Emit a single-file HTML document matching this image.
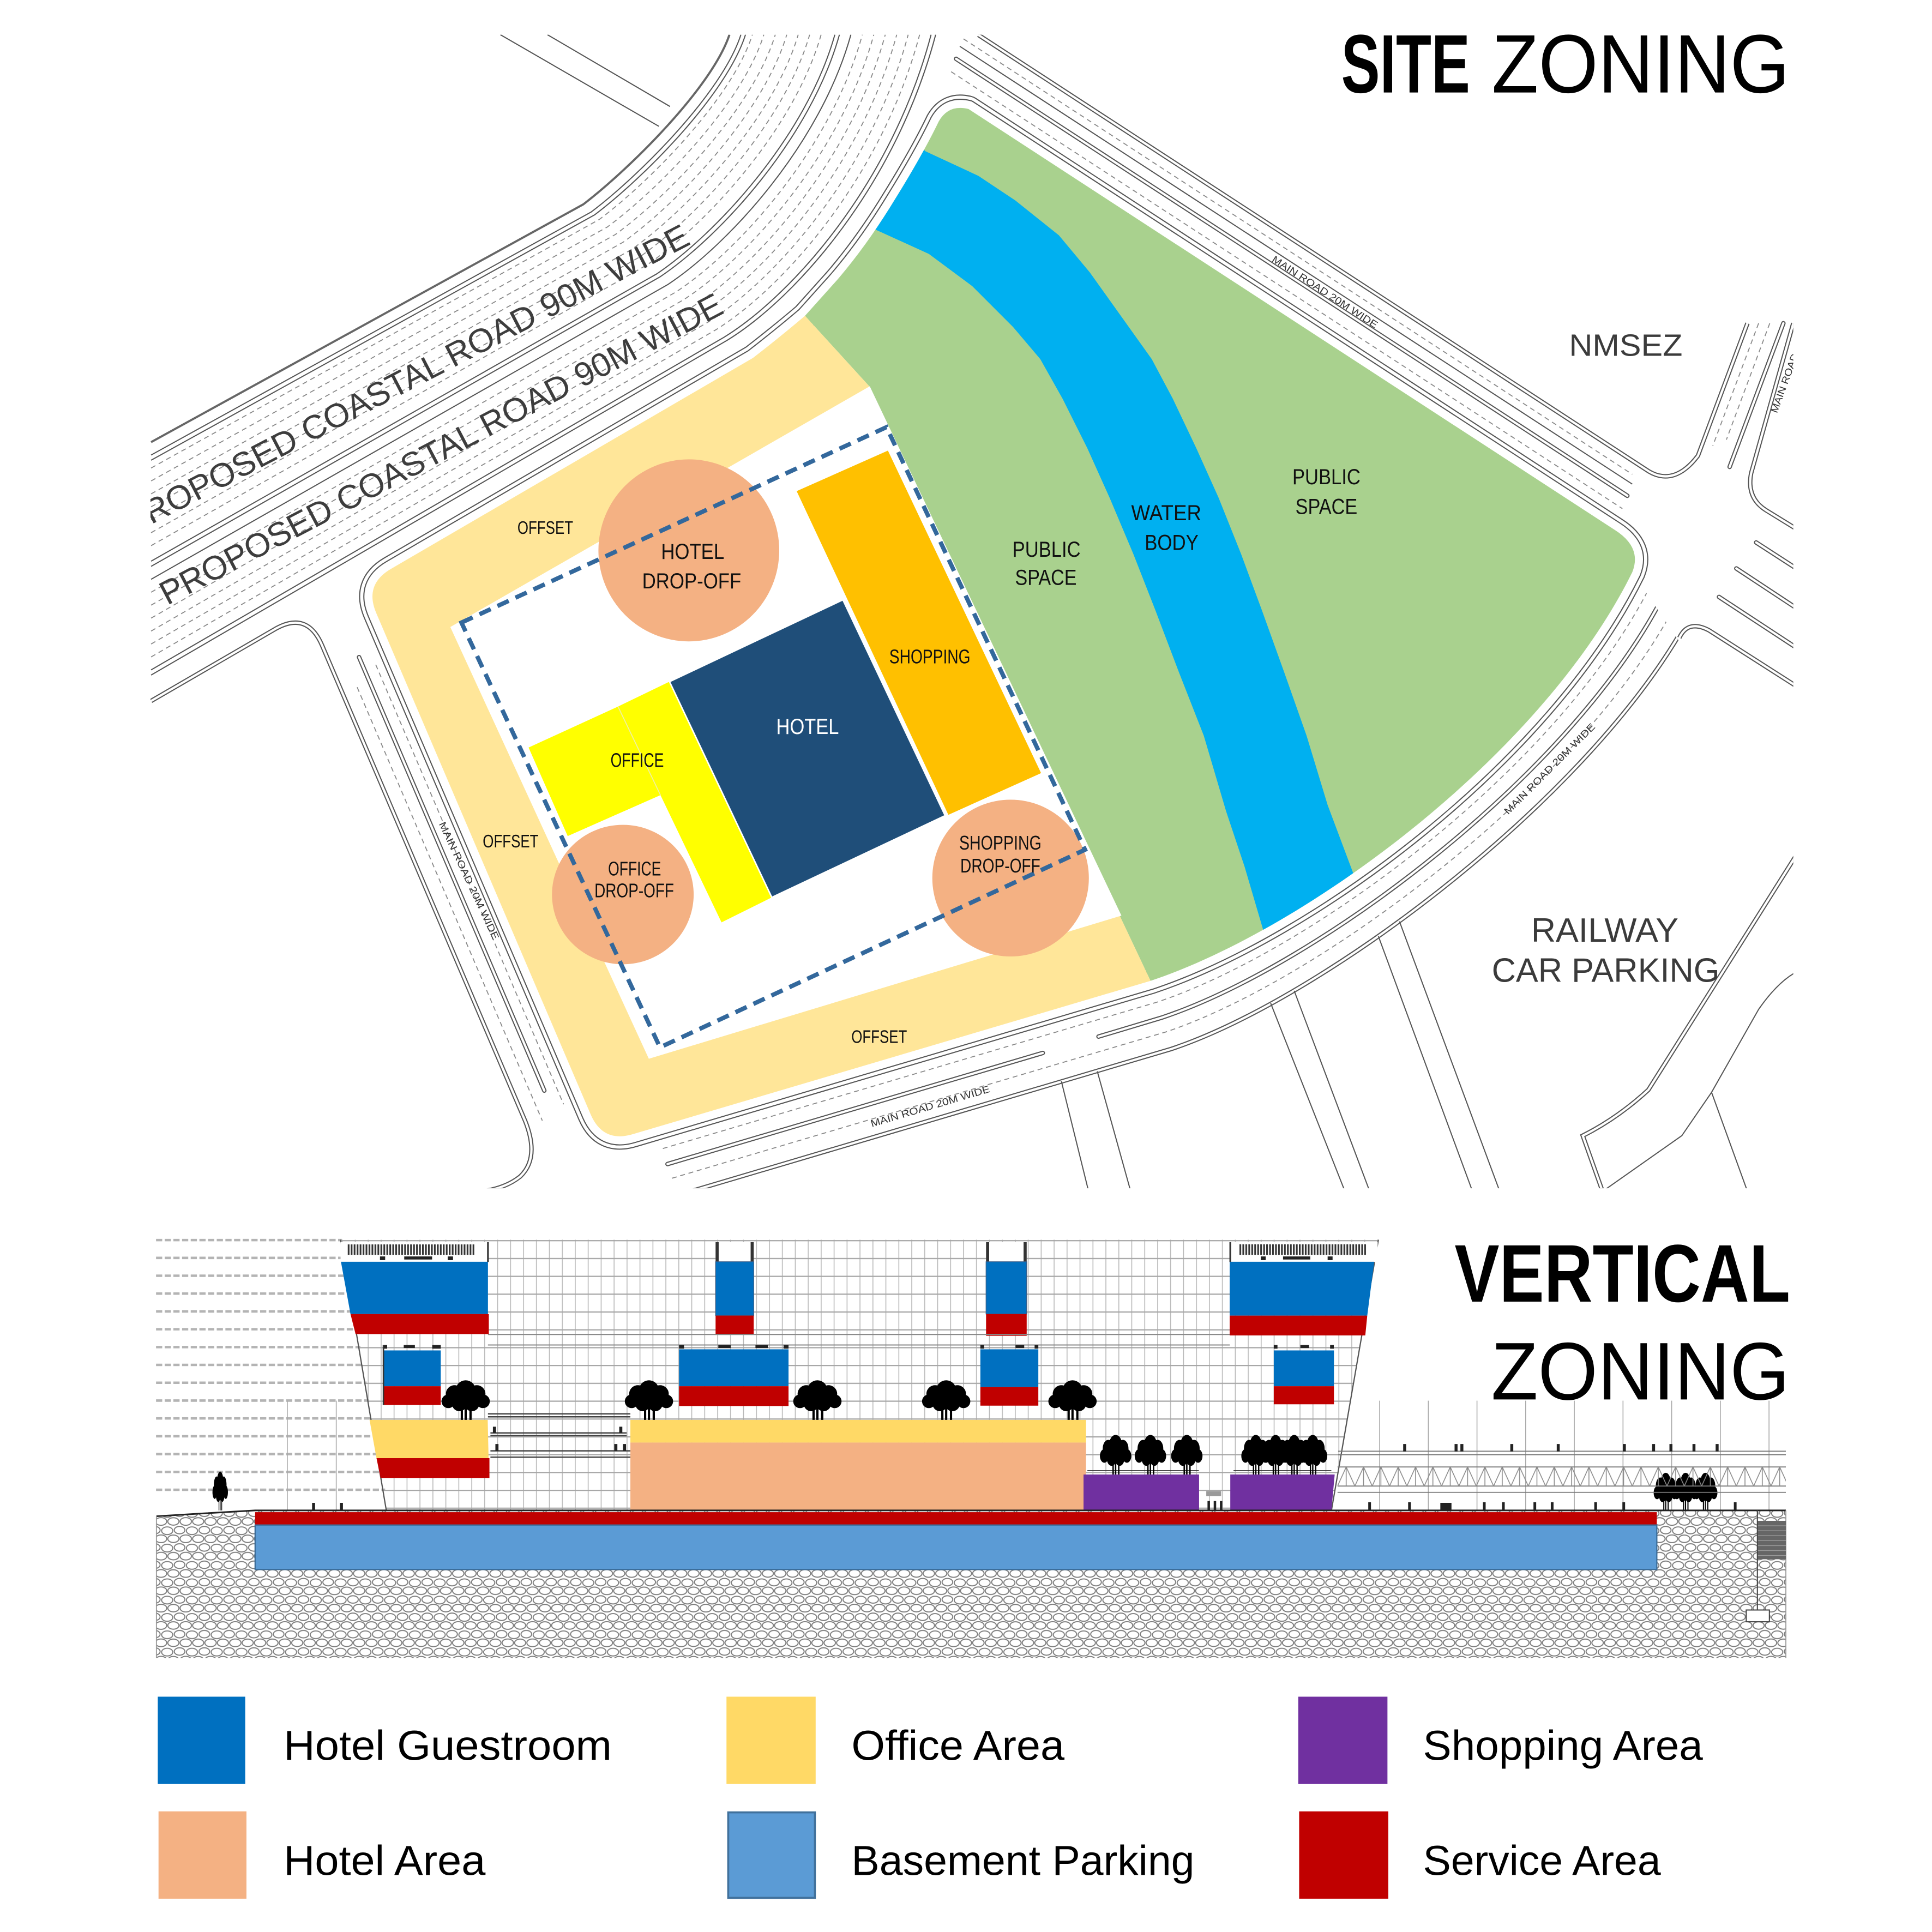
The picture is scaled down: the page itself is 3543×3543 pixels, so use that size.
<!DOCTYPE html>
<html><head><meta charset="utf-8"><style>html,body{margin:0;padding:0;background:#fff;overflow:hidden}svg{display:block}</style></head>
<body>
<svg xmlns="http://www.w3.org/2000/svg" width="3543" height="3543" viewBox="0 0 1560 1560" font-family="'Liberation Sans', Arial, sans-serif">
<defs>
<style>
.s{fill:none;stroke:#555;stroke-width:.9}
.d{fill:none;stroke:#8a8a8a;stroke-width:.8;stroke-dasharray:4 3}
.k{fill:none;stroke:#555;stroke-width:3.6;stroke-linecap:round}
.w{fill:none;stroke:#fff;stroke-width:1.8;stroke-linecap:round}
.lb{font-size:8px;fill:#333}
.pl{text-anchor:middle;fill:#111}
</style>
<clipPath id="plan"><rect x="121.5" y="28" width="1326.5" height="931.5"/></clipPath>
<clipPath id="sclip"><polygon points="978,-38 1658,962 1658,1600 0,1600 0,-38"/></clipPath>
<clipPath id="gclip"><path d="M650,255 L676,226 Q700,198 722,162 Q745,125 758,98 Q766,84 782,88 L1304,428 Q1326,442 1318,462 C1245,610 1055,750 929,792 L702,312 Z"/></clipPath>
<path id="u1" d="M790,28.2 L1331,380.4 Q1352,393 1371,368 L1411,261"/>
<path id="m1" d="M772,47.5 L1314,400.3"/>
<path id="m2" d="M1440,261 L1396.6,377"/>
<path id="e0" d="M1448,261 L1414,382 Q1410,402 1426,412 L1452,428"/>
<path id="e1" d="M1418,438 L1452,460"/>
<path id="e2" d="M1402,459 L1452,492"/>
<path id="e3" d="M1388,482 L1452,524"/>
<path id="e4" d="M1356,515 Q1363,500 1380,509 L1452,555"/>
<path id="sm1" d="M539,939.9 L842,850.2"/>
<path id="sm2" d="M887,837 L938,821.7 C1064,779.7 1272.8,623.7 1345.8,475.7"/>
<path id="so" d="M546.7,965.2 L945.7,847 C1071.7,805 1296.6,635.4 1369.6,487.4"/>
<path id="lm" d="M289.9,530.6 L439.5,880.6"/>
<path id="le" d="M122,566 L222,508 Q248,493 260,521 L424,905 Q436,935 420,950 Q405,962 378,963"/>
<path id="ra" d="M1452,688 L1331,880 Q1306,903 1278,917 L1294,962"/>
<path id="site" d="M650,255 L676,226 Q700,198 722,162 Q745,125 758,98 Q766,84 782,88 L1304,428 Q1326,442 1318,462 C1245,610 1055,750 929,792 L511,915.8 Q487,923 477,900 L303.8,495 Q294,472 315.6,459.4 L608,289 Q630,272 650,255 Z"/>
<pattern id="soil" width="20" height="14" patternUnits="userSpaceOnUse">
<rect width="20" height="14" fill="#fff"/>
<g fill="none" stroke="#7c7c7c" stroke-width="0.85">
<ellipse cx="5" cy="3.5" rx="4.3" ry="3"/><ellipse cx="15" cy="4" rx="4.5" ry="3.1"/>
<ellipse cx="0" cy="10.5" rx="4.5" ry="3"/><ellipse cx="10" cy="10.5" rx="4.6" ry="3.1"/><ellipse cx="20" cy="10.5" rx="4.5" ry="3"/>
</g></pattern>
<pattern id="grid" x="276" y="1001.3" width="10.45" height="14.4" patternUnits="userSpaceOnUse">
<path d="M0.4,0V14.4" stroke="#b8b8b8" stroke-width="0.7"/><path d="M0,0.5H10.45" stroke="#a6a6a6" stroke-width="1"/></pattern>
<pattern id="rail" width="2.4" height="10" patternUnits="userSpaceOnUse"><rect width="1.4" height="10" fill="#333"/></pattern>
<pattern id="truss" x="1080" y="1184.5" width="14" height="15.4" patternUnits="userSpaceOnUse"><path d="M0,15.4 L7,0 L14,15.4 M7,0 V15.4" stroke="#8a8a8a" stroke-width="0.7" fill="none"/></pattern>
<g id="tree" fill="#000">
<circle cx="0" cy="-24" r="8"/><circle cx="-9" cy="-21" r="7"/><circle cx="9" cy="-21" r="7"/>
<circle cx="-14" cy="-15" r="5.5"/><circle cx="14" cy="-15" r="5.5"/><circle cx="-5" cy="-13" r="6"/><circle cx="5" cy="-13" r="6"/>
<rect x="-4" y="-10" width="1.8" height="10"/><rect x="3" y="-10" width="1.8" height="10"/><rect x="-0.9" y="-12" width="1.8" height="12"/>
</g>
</defs>

<rect width="1560" height="1560" fill="#fff"/>

<!-- ================= SITE PLAN ================= -->
<g clip-path="url(#plan)">
<path class="s" style="stroke-width:1.7;stroke:#666" d="M122,357 L471,165 C510,135 575,70 589,28"/>
<path class="s" d="M122,367.45 L477.45,171.1 C517.4,140.85 583.25,74.4 598.25,28"/>
<path class="s" d="M122,371.63 L480.03,173.54 C520.36,143.19 586.55,76.16 601.95,28"/>
<path class="d" d="M122,377.9 L483.9,177.2 C524.8,146.7 591.5,78.8 607.5,28"/>
<path class="d" d="M122,388.35 L490.35,183.3 C532.2,152.55 599.75,83.2 616.75,28"/>
<path class="d" d="M122,398.8 L496.8,189.4 C539.6,158.4 608,87.6 626,28"/>
<path class="d" d="M122,409.25 L503.25,195.5 C547,164.25 616.25,92 635.25,28"/>
<path class="d" d="M122,419.7 L509.7,201.6 C554.4,170.1 624.5,96.4 644.5,28"/>
<path class="d" d="M122,430.15 L516.15,207.7 C561.8,175.95 632.75,100.8 653.75,28"/>
<path class="d" d="M122,440.6 L522.6,213.8 C569.2,181.8 641,105.2 663,28"/>
<path class="s" d="M122,453.14 L530.34,221.12 C578.08,188.82 650.9,110.48 674.1,28"/>
<path class="s" d="M122,457.32 L532.92,223.56 C581.04,191.16 654.2,112.24 677.8,28"/>
<path class="s" d="M122,467.77 L539.37,229.66 C588.44,197.01 662.45,116.64 687.05,28"/>
<path class="d" d="M122,478.22 L545.82,235.76 C595.84,202.86 670.7,121.04 696.3,28"/>
<path class="d" d="M122,488.67 L552.27,241.86 C603.24,208.71 678.95,125.44 705.55,28"/>
<path class="d" d="M122,499.12 L558.72,247.96 C610.64,214.56 687.2,129.84 714.8,28"/>
<path class="d" d="M122,509.57 L565.17,254.06 C618.04,220.41 695.45,134.24 724.05,28"/>
<path class="d" d="M122,520.02 L571.62,260.16 C625.44,226.26 703.7,138.64 733.3,28"/>
<path class="d" d="M122,530.47 L578.07,266.26 C632.84,232.11 711.95,143.04 742.55,28"/>
<path class="s" d="M122,540.92 L584.52,272.36 C640.24,237.96 720.2,147.44 751.8,28"/>
<path class="s" d="M122,545.1 L587.1,274.8 C643.2,240.3 723.5,149.2 755.5,28"/>
<text transform="translate(106,432) rotate(-27.45)" font-size="27" fill="#3d3d3d" textLength="510" lengthAdjust="spacingAndGlyphs">PROPOSED COASTAL ROAD 90M WIDE</text>
<text transform="translate(135,489) rotate(-27.7)" font-size="27" fill="#3d3d3d" textLength="509" lengthAdjust="spacingAndGlyphs">PROPOSED COASTAL ROAD 90M WIDE</text>
<path class="s" d="M404,28 L532,102 M442,28 L541,86"/>

<path class="d" d="M778,31.4 L1318,383"/>
<path class="s" d="M775,37.4 L1318,390.9"/>
<path class="d" d="M768,57.9 L1310,410.7"/>
<use href="#u1" class="k" style="stroke-linecap:butt"/><use href="#u1" class="w" style="stroke-linecap:butt"/>
<use href="#m1" class="k"/><use href="#m1" class="w"/>
<text class="lb" transform="translate(1070,235.5) rotate(33.07)" y="3" text-anchor="middle" textLength="100" lengthAdjust="spacingAndGlyphs">MAIN ROAD 20M WIDE</text>

<path class="d" d="M1420,261 L1383,360"/>
<path class="d" d="M1429,261 L1394,355"/>
<use href="#m2" class="k"/><use href="#m2" class="w"/>
<use href="#e0" class="k" style="stroke-linecap:butt"/><use href="#e0" class="w" style="stroke-linecap:butt"/>
<use href="#e1" class="k"/><use href="#e1" class="w"/>
<use href="#e2" class="k"/><use href="#e2" class="w"/>
<use href="#e3" class="k"/><use href="#e3" class="w"/>
<use href="#e4" class="k" style="stroke-linecap:butt"/><use href="#e4" class="w" style="stroke-linecap:butt"/>
<text class="lb" transform="translate(1444,300) rotate(-70)" y="3" text-anchor="middle" textLength="70" lengthAdjust="spacingAndGlyphs">MAIN ROAD 20M</text>

<g clip-path="url(#sclip)">
<path class="d" d="M535.2,927.4 L934.2,809.2 C1060.2,767.2 1261.1,618 1334.1,470"/>
<path class="d" d="M542.5,951.4 L941.5,833.2 C1067.5,791.2 1283.6,629 1356.6,481"/>
<use href="#sm1" class="k"/><use href="#sm1" class="w"/>
<use href="#sm2" class="k"/><use href="#sm2" class="w"/>
<use href="#so" class="k" style="stroke-linecap:butt"/><use href="#so" class="w" style="stroke-linecap:butt"/>
</g>
<text class="lb" transform="translate(751,893) rotate(-16.5)" y="3" text-anchor="middle" textLength="100" lengthAdjust="spacingAndGlyphs">MAIN ROAD 20M WIDE</text>
<text class="lb" transform="translate(1251,620.6) rotate(-45)" y="3" text-anchor="middle" textLength="100" lengthAdjust="spacingAndGlyphs">MAIN ROAD 20M WIDE</text>

<path class="d" d="M303.4,536.7 L455.1,891.7"/>
<path class="d" d="M288.4,554.9 L437.9,904.9"/>
<use href="#lm" class="k"/><use href="#lm" class="w"/>
<use href="#le" class="k" style="stroke-linecap:butt"/><use href="#le" class="w" style="stroke-linecap:butt"/>
<text class="lb" transform="translate(379,711) rotate(65)" y="3" text-anchor="middle" textLength="104" lengthAdjust="spacingAndGlyphs">MAIN ROAD 20M WIDE</text>

<use href="#ra" class="k" style="stroke-linecap:butt"/><use href="#ra" class="w" style="stroke-linecap:butt"/>
<path class="s" d="M1452,784 Q1436,792 1420,815 L1382,882 L1358,917 L1294,962 M1382,882 L1411,962"/>
<path class="s" d="M1113,756 L1189,962 M1130,744 L1211,962 M1026,810 L1086,962 M1045,800 L1106,962 M857,873 L879,962 M886,865 L913,962"/>

<use href="#site" style="fill:none;stroke:#555;stroke-width:21.6;stroke-linejoin:round"/>
<use href="#site" style="fill:none;stroke:#fff;stroke-width:19.8;stroke-linejoin:round"/>
<use href="#site" style="fill:none;stroke:#555;stroke-width:14.8;stroke-linejoin:round"/>
<use href="#site" style="fill:none;stroke:#fff;stroke-width:13;stroke-linejoin:round"/>

<path fill="#A9D18E" d="M650,255 L676,226 Q700,198 722,162 Q745,125 758,98 Q766,84 782,88 L1304,428 Q1326,442 1318,462 C1245,610 1055,750 929,792 L702,312 Z"/>
<path fill="#00B0F0" clip-path="url(#gclip)" d="M735,105 L747,122 L790,142 L820,162 L855,190 L880,220 L905,255 L930,290 L947,322 L966,362 L984,402 L1002,447 L1019,493 L1037,543 L1055,594 L1072,650 L1093,706 L1100,740 L1030,790 L1020,751 L1005,700 L990,655 L972,594 L952,543 L933,493 L915,447 L896,402 L878,362 L858,322 L840,290 L818,264 L785,231 L750,205 L706,185 L685,172 Z"/>
<path fill="#FFE699" d="M650,255 L702,312 L929,792 L511,915.8 Q487,923 477,900 L303.8,495 Q294,472 315.6,459.4 L608,289 Q630,272 650,255 Z"/>
<polygon fill="#fff" points="363.6,506.3 702.3,311.9 905.5,739.3 523.9,854.9"/>

<polygon fill="#FFC000" stroke="#fff" stroke-width="1" points="642.6,396.3 717.2,363.2 841.3,624.5 765.5,658.6"/>
<polygon fill="#FFFF00" points="426.8,603.6 499,570.5 540.6,550.4 623.2,724.6 582.6,744.8 533.3,642 458.4,675.1"/>
<path d="M499,570.5 L533.3,642" stroke="#f0f0a0" stroke-width="0.8"/>
<polygon fill="#1F4E79" stroke="#fff" stroke-width="1.2" points="540.6,550.4 680.6,484.3 763.2,658.6 623.2,724.6"/>

<ellipse cx="556.2" cy="444.4" rx="73" ry="73.5" fill="#F4B183"/>
<ellipse cx="502.9" cy="722.3" rx="57.2" ry="56.3" fill="#F4B183"/>
<ellipse cx="816" cy="709" rx="63.2" ry="63.3" fill="#F4B183"/>

<polygon fill="none" stroke="#33689C" stroke-width="3.5" stroke-dasharray="10 6" points="372.6,502.7 715.8,344.9 876.1,686.1 532.9,845.7"/>

<g class="pl" font-size="16">
<text x="440.3" y="431" font-size="14.5" textLength="45" lengthAdjust="spacingAndGlyphs">OFFSET</text>
<text x="559.3" y="451.3" font-size="17.5" textLength="51" lengthAdjust="spacingAndGlyphs">HOTEL</text>
<text x="558.5" y="475.1" font-size="17.5" textLength="80" lengthAdjust="spacingAndGlyphs">DROP-OFF</text>
<text x="750.8" y="535.7" textLength="65.5" lengthAdjust="spacingAndGlyphs">SHOPPING</text>
<text x="652.1" y="592.6" font-size="17.5" fill="#fff" textLength="50.6" lengthAdjust="spacingAndGlyphs">HOTEL</text>
<text x="514.5" y="619.3" textLength="43" lengthAdjust="spacingAndGlyphs">OFFICE</text>
<text x="412.3" y="684.3" font-size="14.5" textLength="45" lengthAdjust="spacingAndGlyphs">OFFSET</text>
<text x="512.4" y="707" textLength="42.8" lengthAdjust="spacingAndGlyphs">OFFICE</text>
<text x="512.1" y="724.6" textLength="64.2" lengthAdjust="spacingAndGlyphs">DROP-OFF</text>
<text x="807.7" y="686" textLength="66.4" lengthAdjust="spacingAndGlyphs">SHOPPING</text>
<text x="807.7" y="704.5" textLength="64.6" lengthAdjust="spacingAndGlyphs">DROP-OFF</text>
<text x="709.9" y="842" font-size="14.5" textLength="45" lengthAdjust="spacingAndGlyphs">OFFSET</text>
<text x="845" y="449.5" font-size="17.5" textLength="55" lengthAdjust="spacingAndGlyphs">PUBLIC</text>
<text x="844.5" y="472.2" font-size="17.5" textLength="49.7" lengthAdjust="spacingAndGlyphs">SPACE</text>
<text x="941.7" y="420" font-size="17.5" textLength="56.6" lengthAdjust="spacingAndGlyphs">WATER</text>
<text x="946" y="444" font-size="17.5" textLength="43.4" lengthAdjust="spacingAndGlyphs">BODY</text>
<text x="1071" y="391" font-size="17.5" textLength="55" lengthAdjust="spacingAndGlyphs">PUBLIC</text>
<text x="1071" y="415" font-size="17.5" textLength="50" lengthAdjust="spacingAndGlyphs">SPACE</text>
</g>
<text x="1267" y="287.4" font-size="25" fill="#3b3b3b" textLength="91.5" lengthAdjust="spacingAndGlyphs">NMSEZ</text>
<text x="1295.8" y="760.3" font-size="27.5" fill="#3b3b3b" text-anchor="middle" textLength="119" lengthAdjust="spacingAndGlyphs">RAILWAY</text>
<text x="1296.5" y="792.7" font-size="27.5" fill="#3b3b3b" text-anchor="middle" textLength="184" lengthAdjust="spacingAndGlyphs">CAR PARKING</text>
</g>

<text x="1083" y="74.7" font-size="67" font-weight="bold" fill="#000" textLength="104" lengthAdjust="spacingAndGlyphs">SITE</text>
<text x="1204.5" y="74.7" font-size="67" fill="#000" textLength="240.5" lengthAdjust="spacingAndGlyphs">ZONING</text>

<!-- ================= SECTION ================= -->
<path fill="none" stroke="#b4b4b4" stroke-width="2" stroke-dasharray="5 2" d="M126,1001.3H276 M126,1015.7H278 M126,1030.1H281 M126,1044.5H283 M126,1058.9H286 M126,1073.3H288 M126,1087.7H291 M126,1102.1H293 M126,1116.5H296 M126,1130.9H298 M126,1145.3H301 M126,1159.7H303 M126,1174.1H306 M126,1188.5H308 M126,1202.9H311"/>
<polygon fill="url(#grid)" points="275,1001 1113,1001 1075,1220 312,1220"/>
<path stroke="#a8a8a8" stroke-width="0.7" d="M232,1131V1220 M271.5,1131V1220 M1114,1131V1220 M1153.3,1131V1220 M1192.6,1131V1220 M1231.9,1131V1220 M1271.2,1131V1220 M1310.5,1131V1220 M1349.8,1131V1220 M1389.1,1131V1220 M1428.4,1131V1220"/>
<path stroke="#555" stroke-width="1" d="M275,1001 L312,1220 M1113,1001 L1075,1220"/>

<rect x="275" y="1003" width="119" height="16" fill="#fff"/>
<rect x="280.5" y="1004.8" width="102.5" height="8.4" fill="url(#rail)"/>
<path fill="#222" d="M306.8,1014.5h4.2v3h-4.2z M326.4,1014.5h22.5v2.5h-22.5z M361.5,1014.5h4.3v3h-4.3z"/>
<path stroke="#333" stroke-width="1.4" d="M394,1003V1019"/>
<polygon fill="#0070C0" points="275.3,1018.8 394,1018.8 394,1061 283,1061"/>
<polygon fill="#C00000" points="283,1061 394.7,1061 394.7,1077.2 287.1,1077.2"/>

<rect x="577.8" y="1003" width="30.8" height="16" fill="#fff"/>
<path fill="#333" d="M577.8,1003h2.5v16h-2.5z M606.1,1003h2.5v16h-2.5z"/>
<rect x="577.8" y="1018.8" width="30.8" height="43.5" fill="#0070C0" stroke="#3a5f8a" stroke-width="0.6"/>
<rect x="577.8" y="1062.3" width="30.8" height="14.9" fill="#C00000"/>

<rect x="796.2" y="1003" width="32.8" height="16" fill="#fff"/>
<path fill="#333" d="M796.2,1003h2.5v16h-2.5z M826.5,1003h2.5v16h-2.5z"/>
<rect x="796.2" y="1018.8" width="32.8" height="42.2" fill="#0070C0" stroke="#3a5f8a" stroke-width="0.6"/>
<rect x="796.2" y="1061" width="32.8" height="17.6" fill="#C00000"/>

<rect x="993.4" y="1003" width="119" height="16" fill="#fff"/>
<rect x="1000.4" y="1004.7" width="102.6" height="8.5" fill="url(#rail)"/>
<path fill="#222" d="M1018,1014.5h4v3h-4z M1036,1014.5h22v2.5h-22z M1072,1014.5h4v3h-4z"/>
<path stroke="#333" stroke-width="1.4" d="M993.4,1003V1019"/>
<polygon fill="#0070C0" points="992.9,1018.8 1109.6,1018.8 1104,1062.3 992.9,1062.3"/>
<polygon fill="#C00000" points="992.9,1062.3 1104,1062.3 1102.4,1078.3 992.9,1078.3"/>

<path stroke="#888" stroke-width="0.9" d="M394,1077.5H993 M394,1086H993"/>

<path fill="#222" d="M309.6,1086h3v3h-3z M326,1086h9v2.5h-9z M349,1086h6.9v3h-6.9z M548.3,1086h4v3h-4z M580,1086h10v2.5h-10z M610,1086h10v2.5h-10z M632.7,1086h4v3h-4z M791.6,1086h3v3h-3z M820,1086h7v2.5h-7z M835.4,1086h3v3h-3z M1028.5,1086h3v3h-3z M1050,1086h7v2.5h-7z M1074,1086h3v3h-3z"/>
<rect x="309.6" y="1090.4" width="46.3" height="28.9" fill="#0070C0"/>
<rect x="309.6" y="1119.3" width="46.3" height="15.2" fill="#C00000"/>
<path stroke="#333" stroke-width="1.2" d="M309.6,1086V1134.5"/>
<rect x="548.3" y="1089.5" width="88.4" height="29.8" fill="#0070C0"/>
<rect x="548.3" y="1119.3" width="88.4" height="16" fill="#C00000"/>
<rect x="791.6" y="1089.5" width="46.8" height="30.5" fill="#0070C0"/>
<rect x="791.6" y="1120" width="46.8" height="15" fill="#C00000"/>
<rect x="1028.5" y="1090.4" width="48.6" height="28.9" fill="#0070C0"/>
<rect x="1028.5" y="1119.3" width="48.6" height="14.6" fill="#C00000"/>

<path stroke="#444" stroke-width="1.1" fill="none" d="M394,1141.6H509 M394,1144H509 M396,1157H506 M396,1159.2H506 M396,1171.5H509 M396,1176.6H509"/>
<path fill="#222" d="M398,1152h2.5v5h-2.5z M500,1152h2.5v5h-2.5z M400,1166h2.5v5.5h-2.5z M496,1166h2.5v5.5h-2.5z M503,1166h2.5v5.5h-2.5z"/>

<polygon fill="#FFD966" points="298.4,1146.5 393.8,1146.5 394.5,1177.4 304,1177.4"/>
<polygon fill="#C00000" points="304,1177.4 395.2,1177.4 395.2,1193.4 307.3,1193.4"/>
<rect x="509" y="1146.5" width="367.9" height="18.3" fill="#FFD966"/>
<rect x="509" y="1164.8" width="367.9" height="56.2" fill="#F4B183"/>
<rect x="874.9" y="1190.6" width="93.3" height="30.4" fill="#7030A0"/>
<polygon fill="#7030A0" points="993.4,1190.6 1077.7,1190.6 1074.9,1221 993.4,1221"/>
<path stroke="#333" stroke-width="0.8" d="M878,1187.5H968 M996,1187.5H1075"/>
<rect x="974" y="1204" width="12" height="4" fill="#9a9a9a"/>
<path fill="#222" d="M975,1212h2v7h-2z M980,1212h2v7h-2z M985,1212h2v7h-2z"/>

<use href="#tree" x="376" y="1146.5"/>
<use href="#tree" x="524" y="1146.5"/>
<use href="#tree" x="660" y="1146.5"/>
<use href="#tree" x="764" y="1146.5"/>
<use href="#tree" x="866" y="1146.5"/>
<use href="#tree" transform="translate(900.8,1190.6) scale(0.65,1)"/>
<use href="#tree" transform="translate(928.9,1190.6) scale(0.65,1)"/>
<use href="#tree" transform="translate(958.3,1190.6) scale(0.65,1)"/>
<use href="#tree" transform="translate(1014,1190.6) scale(0.6,1)"/>
<use href="#tree" transform="translate(1030,1190.6) scale(0.6,1)"/>
<use href="#tree" transform="translate(1045,1190.6) scale(0.6,1)"/>
<use href="#tree" transform="translate(1060,1190.6) scale(0.6,1)"/>
<use href="#tree" transform="translate(177.8,1219.6) scale(0.32,0.98)"/>
<use href="#tree" transform="translate(1345,1219.6) scale(0.5,0.95)"/>
<use href="#tree" transform="translate(1361,1219.6) scale(0.5,0.95)"/>
<use href="#tree" transform="translate(1377,1219.6) scale(0.5,0.95)"/>

<path stroke="#7a7a7a" stroke-width="0.8" d="M1080.5,1171.8H1442 M1080.5,1174.6H1442 M1080,1184.5H1442 M1080,1199.9H1442 M1080,1205H1442"/>
<rect x="1080" y="1184.5" width="362" height="15.4" fill="url(#truss)"/>
<path fill="#222" d="M1133,1166h2.4v6h-2.4z M1174.5,1166h2.4v6h-2.4z M1179.2,1166h2.4v6h-2.4z M1219.5,1166h2.4v6h-2.4z M1257,1166h2.4v6h-2.4z M1310.4,1166h2.4v6h-2.4z M1334,1166h2.4v6h-2.4z M1348,1166h2.4v6h-2.4z M1366.6,1166h2.4v6h-2.4z M1385.3,1166h2.4v6h-2.4z"/>
<path fill="#222" d="M252,1213.5h2.4v6.5h-2.4z M274.5,1213.5h2.4v6.5h-2.4z M1104.8,1213h2.2v7h-2.2z M1137,1213h2.2v7h-2.2z M1163,1213.5h9v6h-9z M1197.4,1213h2.2v7h-2.2z M1212.8,1213h2.2v7h-2.2z M1238.2,1213h2.2v7h-2.2z M1252.2,1213h2.2v7h-2.2z M1287.3,1213h2.2v7h-2.2z M1310,1213h2.2v7h-2.2z M1400,1213h2.2v7h-2.2z"/>

<path fill="url(#soil)" d="M126.3,1224.3 L164,1222 L206,1219.6 L1442,1219.6 L1442,1338.9 L126.3,1338.9 Z"/>
<path fill="none" stroke="#222" stroke-width="1.3" d="M126.3,1224.3 L164,1222 L206,1219.6 L1442,1219.6"/>
<path fill="none" stroke="#999" stroke-width="0.8" d="M126.3,1224.3V1338.9 M1442,1219.6V1338.9"/>
<rect x="206" y="1221" width="1131.8" height="10.4" fill="#C00000"/>
<rect x="206" y="1231.4" width="1131.8" height="35.9" fill="#5B9BD5" stroke="#3A6D9A" stroke-width="1"/>
<rect x="1419" y="1228" width="23" height="31" fill="#666"/>
<path stroke="#999" stroke-width="0.6" d="M1419,1232H1442 M1419,1236H1442 M1419,1240H1442 M1419,1244H1442 M1419,1248H1442 M1419,1252H1442 M1419,1256H1442"/>
<path stroke="#444" stroke-width="0.9" d="M1419,1219.6V1300"/>
<rect x="1410" y="1300" width="18.7" height="9.5" fill="#fff" stroke="#444" stroke-width="0.9"/>

<text x="1174.5" y="1051" font-size="66" font-weight="bold" fill="#000" textLength="271" lengthAdjust="spacingAndGlyphs">VERTICAL</text>
<text x="1204" y="1130" font-size="66" fill="#000" textLength="241" lengthAdjust="spacingAndGlyphs">ZONING</text>

<!-- ================= LEGEND ================= -->
<rect x="127.4" y="1370" width="70.6" height="70.5" fill="#0070C0"/>
<rect x="586.6" y="1370" width="72" height="70.5" fill="#FFD966"/>
<rect x="1048.3" y="1370" width="72" height="70.5" fill="#7030A0"/>
<rect x="128" y="1462.6" width="71" height="70.5" fill="#F4B183"/>
<rect x="588" y="1463.4" width="70" height="69" fill="#5B9BD5" stroke="#41719C" stroke-width="1.6"/>
<rect x="1049" y="1462.6" width="72" height="70.5" fill="#C00000"/>
<g font-size="34" fill="#000">
<text x="229" y="1421" textLength="265" lengthAdjust="spacingAndGlyphs">Hotel Guestroom</text>
<text x="687.5" y="1421" textLength="172" lengthAdjust="spacingAndGlyphs">Office Area</text>
<text x="1149" y="1421" textLength="226" lengthAdjust="spacingAndGlyphs">Shopping Area</text>
<text x="229" y="1514" textLength="163" lengthAdjust="spacingAndGlyphs">Hotel Area</text>
<text x="687.5" y="1514" textLength="277" lengthAdjust="spacingAndGlyphs">Basement Parking</text>
<text x="1149" y="1514" textLength="192" lengthAdjust="spacingAndGlyphs">Service Area</text>
</g>
</svg>
</body></html>
